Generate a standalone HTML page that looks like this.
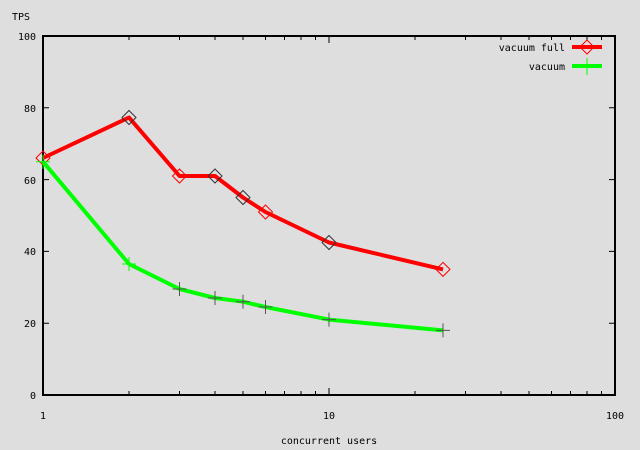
<!DOCTYPE html>
<html><head><style>body{margin:0;background:#dedede}svg{display:block}text{font-family:"DejaVu Sans Mono","Liberation Mono",monospace;font-size:10px;fill:#000}</style></head>
<body>
<svg width="640" height="450" xmlns="http://www.w3.org/2000/svg">
<rect width="640" height="450" fill="#dedede"/>
<g stroke="#000" stroke-width="1">
<path d="M43 323.2h6M43 251.4h6M43 179.6h6M43 107.8h6M615 323.2h-6M615 251.4h-6M615 179.6h-6M615 107.8h-6"/>
<path d="M129 395v-4M179.5 395v-4M215 395v-4M243 395v-4M265.5 395v-4M284.5 395v-4M301 395v-4M315.5 395v-4M329 395v-7M415 395v-4M465.5 395v-4M501 395v-4M529 395v-4M551.5 395v-4M570.5 395v-4M587 395v-4M601.5 395v-4
M129 36v4M179.5 36v4M215 36v4M243 36v4M265.5 36v4M284.5 36v4M301 36v4M315.5 36v4M329 36v7M415 36v4M465.5 36v4M501 36v4M529 36v4M551.5 36v4M570.5 36v4M587 36v4M601.5 36v4"/>
</g>
<rect x="43" y="36" width="572" height="359" fill="none" stroke="#000" stroke-width="2"/>
<g text-anchor="end"><text x="36" y="399">0</text><text x="36" y="327">20</text><text x="36" y="255">40</text><text x="36" y="184">60</text><text x="36" y="112">80</text><text x="36" y="40">100</text></g>
<text x="12" y="20">TPS</text>
<g text-anchor="middle"><text x="43" y="419">1</text><text x="329" y="419">10</text><text x="615" y="419">100</text><text x="329" y="444">concurrent users</text></g>
<polyline fill="none" stroke="#f00" stroke-width="4" stroke-linejoin="round" points="43,158 129,117.5 179.5,176 215,176 243,197.5 265.5,212 329,242.5 443,269.4"/>
<g fill="none" stroke-width="1">
<path stroke="#f00" d="M43 151l7 7-7 7-7-7zM179.5 169l7 7-7 7-7-7zM265.5 205l7 7-7 7-7-7zM443 262.4l7 7-7 7-7-7z"/>
<path stroke="#333" d="M129 110.5l7 7-7 7-7-7zM215 169l7 7-7 7-7-7zM243 190.5l7 7-7 7-7-7zM329 235.5l7 7-7 7-7-7z"/>
</g>
<polyline fill="none" stroke="#0f0" stroke-width="4" stroke-linejoin="round" points="43,161.7 129,264 179.5,289 215,298 243,301.7 265.5,307 329,319.6 443,330.4"/>
<g stroke="#0f0" stroke-width="1"><path d="M36 161.7h14M43 154.7v14M122 264h14M129 257v14"/></g>
<g stroke="#555" stroke-width="1"><path d="M172.5 289h14M179.5 282v14M208 298h14M215 291v14M236 301.7h14M243 294.7v14M258.5 307h14M265.5 300v14M322 319.6h14M329 312.6v14M436 330.4h14M443 323.4v14"/></g>
<text x="565" y="51" text-anchor="end">vacuum full</text>
<text x="565" y="70" text-anchor="end">vacuum</text>
<path d="M572 47h30" stroke="#f00" stroke-width="4"/>
<path d="M587 40l7 7-7 7-7-7z" fill="none" stroke="#f00"/>
<path d="M572 66h30" stroke="#0f0" stroke-width="4"/>
<path d="M587 58v17" stroke="#0f0"/>
</svg>
</body></html>
